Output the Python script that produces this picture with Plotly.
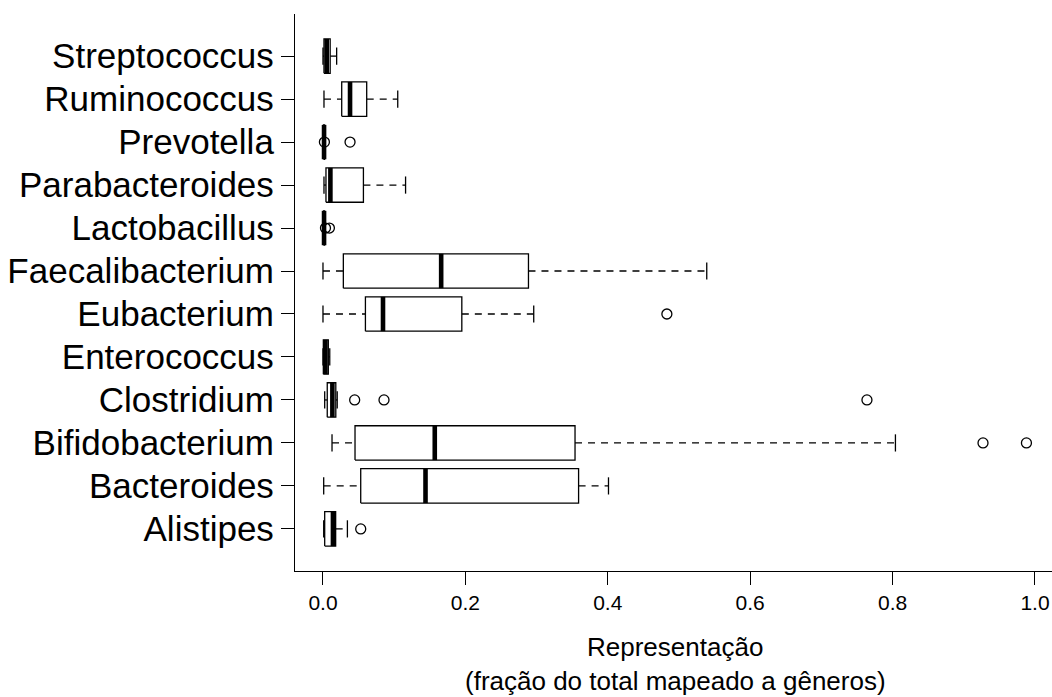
import plotly.graph_objects as go

# Five-number summaries per genus (fraction of reads mapped to genera)
genera = ["Alistipes", "Bacteroides", "Bifidobacterium", "Clostridium",
          "Enterococcus", "Eubacterium", "Faecalibacterium", "Lactobacillus",
          "Parabacteroides", "Prevotella", "Ruminococcus", "Streptococcus"]
whisker_low = [0.001, 0.001, 0.0127, 0.0024, 0.0, 0.0, 0.0, 0.0,
               0.0014, 0.0, 0.0014, 0.0]
q1 = [0.0024, 0.053, 0.045, 0.006, 0.0005, 0.0596, 0.0286, 0.0008,
      0.0042, 0.0008, 0.0263, 0.0014]
median = [0.014, 0.144, 0.157, 0.0132, 0.0035, 0.0843, 0.166, 0.0015,
          0.0104, 0.0015, 0.038, 0.0052]
q3 = [0.0178, 0.359, 0.354, 0.018, 0.0075, 0.195, 0.2886, 0.0022,
      0.0568, 0.0022, 0.0614, 0.0101]
whisker_high = [0.0343, 0.401, 0.804, 0.02, 0.0095, 0.296, 0.539, 0.0025,
                0.116, 0.0025, 0.105, 0.0192]
outliers = [[0.053], [], [0.927, 0.988], [0.0445, 0.0857, 0.764], [],
            [0.483], [], [0.0035, 0.009], [], [0.002, 0.038], [], []]

x_ticks = [0.0, 0.2, 0.4, 0.6, 0.8, 1.0]
x_ticklabels = ["0.0", "0.2", "0.4", "0.6", "0.8", "1.0"]

FONT = "Liberation Sans, Arial, Helvetica, sans-serif"
HALF_BOX = 0.4     # half of the box width in category units
HALF_CAP = 0.2     # half of the whisker staple

box_x, box_y = [], []
wh_x, wh_y = [], []
cap_x, cap_y = [], []
med_x, med_y = [], []
out_x, out_y = [], []

for i, g in enumerate(genera):
    pos = i + 1
    # box outline
    box_x += [q1[i], q3[i], q3[i], q1[i], q1[i], None]
    box_y += [pos - HALF_BOX, pos - HALF_BOX, pos + HALF_BOX, pos + HALF_BOX,
              pos - HALF_BOX, None]
    # dashed whiskers
    wh_x += [whisker_low[i], q1[i], None, q3[i], whisker_high[i], None]
    wh_y += [pos, pos, None, pos, pos, None]
    # staples
    cap_x += [whisker_low[i], whisker_low[i], None,
              whisker_high[i], whisker_high[i], None]
    cap_y += [pos - HALF_CAP, pos + HALF_CAP, None,
              pos - HALF_CAP, pos + HALF_CAP, None]
    # median
    med_x += [median[i], median[i], None]
    med_y += [pos - HALF_BOX, pos + HALF_BOX, None]
    for v in outliers[i]:
        out_x.append(v)
        out_y.append(pos)

fig = go.Figure()
fig.add_trace(go.Scatter(x=wh_x, y=wh_y, mode="lines",
                         line=dict(color="black", width=1.3, dash="7px,6px"),
                         hoverinfo="skip"))
fig.add_trace(go.Scatter(x=box_x, y=box_y, mode="lines", fill="toself",
                         fillcolor="white",
                         line=dict(color="black", width=1.3),
                         hoverinfo="skip"))
fig.add_trace(go.Scatter(x=cap_x, y=cap_y, mode="lines",
                         line=dict(color="black", width=1.3),
                         hoverinfo="skip"))
fig.add_trace(go.Scatter(x=med_x, y=med_y, mode="lines",
                         line=dict(color="black", width=4.6),
                         hoverinfo="skip"))
fig.add_trace(go.Scatter(x=out_x, y=out_y, mode="markers",
                         marker=dict(symbol="circle-open", size=10,
                                     color="black", line=dict(width=1.3)),
                         hoverinfo="skip"))

fig.update_layout(
    width=1052, height=697,
    margin=dict(l=295, r=0, t=14, b=126),
    paper_bgcolor="white", plot_bgcolor="white",
    showlegend=False,
    font=dict(family=FONT, color="black"),
    xaxis=dict(range=[-0.0393, 1.0239], showgrid=False, zeroline=False,
               showline=True, linecolor="black", linewidth=1.3,
               ticks="outside", ticklen=13, tickwidth=1.3, tickcolor="black",
               tickvals=x_ticks, ticktext=x_ticklabels,
               tickfont=dict(size=21, family=FONT)),
    yaxis=dict(range=[0.02, 12.98], showgrid=False, zeroline=False,
               showline=True, linecolor="black", linewidth=1.3,
               ticks="outside", ticklen=13, tickwidth=1.3, tickcolor="black",
               tickvals=list(range(1, len(genera) + 1)), ticktext=genera,
               tickfont=dict(size=35, family=FONT)),
    annotations=[
        dict(text="Representação", xref="paper", yref="paper",
             x=0.5026, y=-0.137, xanchor="center", yanchor="middle",
             showarrow=False, font=dict(size=26, family=FONT)),
        dict(text="(fração do total mapeado a gêneros)", xref="paper",
             yref="paper", x=0.5026, y=-0.198, xanchor="center",
             yanchor="middle", showarrow=False,
             font=dict(size=26, family=FONT)),
    ],
)

fig.write_html("out.html")
